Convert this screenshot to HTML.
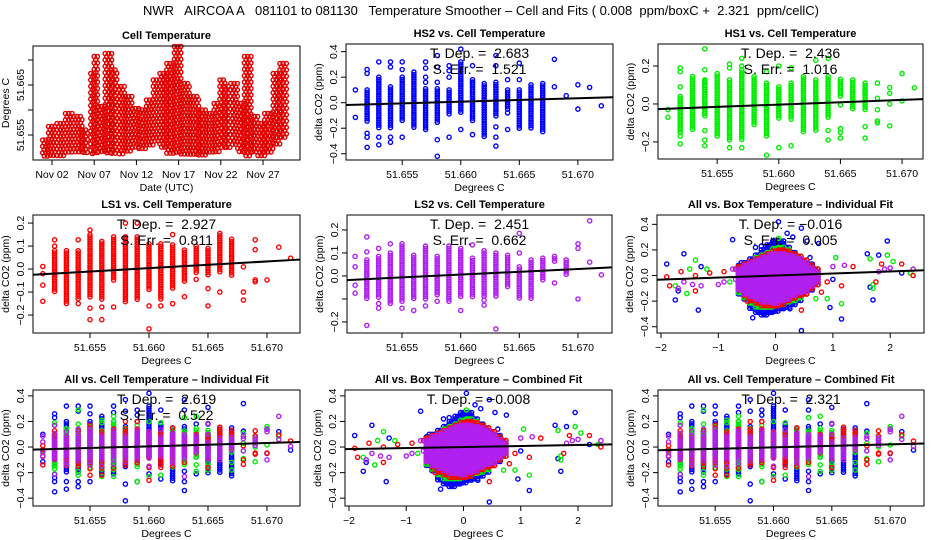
<!DOCTYPE html>
<html><head><meta charset="utf-8">
<style>
html,body{margin:0;padding:0;background:#fff;}
svg{display:block;font-family:"Liberation Sans",Arial,sans-serif;}
</style></head>
<body>
<svg id="chart" width="936" height="540" viewBox="0 0 936 540" xmlns="http://www.w3.org/2000/svg">
<rect x="0" y="0" width="936" height="540" fill="#fff"/>
<text x="481" y="15" text-anchor="middle" font-size="13" style="white-space:pre">NWR   AIRCOA A   081101 to 081130   Temperature Smoother – Cell and Fits ( 0.008  ppm/boxC +  2.321  ppm/cellC)</text>
</svg>
<script>
// ---------- DATA ----------
// Cell temperature time series: bins (days since Nov 1), min & max temperature (deg C)
const tsDays = [-0.1,0.6,1.6,2.6,3.6,4.6,5.6,6.0,6.5,7.3,8.1,8.8,9.7,10.5,11.3,12.2,13.0,13.8,14.6,15.5,16.3,17.4,18.4,19.3,20.2,20.9,21.5,22.2,23.0,23.8,24.6,25.4,26.2,27.2,28.0];
const tsWidth = [0.7,1.0,1.0,1.0,1.0,0.6,0.4,0.5,0.8,0.8,0.7,0.9,0.8,0.8,0.9,0.8,0.8,0.8,0.9,0.8,1.1,1.0,0.9,0.9,0.7,0.6,0.7,0.8,0.8,0.8,0.8,0.8,1.0,0.8,0.8];
const tsLo = [51.6507,51.6507,51.6507,51.6513,51.6513,51.6513,51.6513,51.6513,51.6513,51.6513,51.6513,51.6507,51.6513,51.6520,51.6520,51.6527,51.6533,51.6520,51.6513,51.6513,51.6507,51.6507,51.6507,51.6513,51.6513,51.6520,51.6520,51.6527,51.6513,51.6507,51.6513,51.6507,51.6513,51.6527,51.6540];
const tsHi = [51.6540,51.6567,51.6573,51.6593,51.6587,51.6560,51.6673,51.6707,51.6607,51.6713,51.6680,51.6647,51.6627,51.6603,51.6600,51.6620,51.6660,51.6673,51.6693,51.6727,51.6653,51.6627,51.6600,51.6593,51.6613,51.6660,51.6647,51.6653,51.6613,51.6707,51.6587,51.6573,51.6593,51.6673,51.6693];
const tsXTicks = [1,6,11,16,21,26];
const tsXLabels = ["Nov 02","Nov 07","Nov 12","Nov 17","Nov 22","Nov 27"];

// Cell-temperature bins shared by the scatter panels
const cellBins = [51.651,51.652,51.653,51.654,51.655,51.656,51.657,51.658,51.659,51.660,51.661,51.662,51.663,51.664,51.665,51.666,51.667,51.668,51.669,51.670,51.671,51.672];
const cellTicks = [51.655,51.660,51.665,51.670];
const cellTickLabels = ["51.655","51.660","51.665","51.670"];

const hs2Hi = [null,0.10,0.20,0.125,0.2,0.24,0.11,0.11,0.10,0.32,0.18,0.15,0.16,0.10,0.10,0.14,0.15,null,null,null,null,null];
const hs2Lo = [null,-0.16,-0.21,-0.21,-0.15,-0.21,-0.21,-0.16,-0.1,-0.08,-0.14,-0.27,-0.11,-0.06,-0.21,-0.21,-0.24,null,null,null,null,null];
const hs2Out = [[0.10,-0.115],[0.26,0.23,-0.24,-0.27,-0.35],[0.32,-0.27,-0.33],[0.32,0.28,-0.27,-0.31],[0.32,0.26,-0.27],[],[0.32,0.27,0.2,0.16],[0.37,0.28,0.16,-0.29,-0.42],[0.29,0.25,0.2,-0.27],[0.42,-0.21],[0.29,0.16,-0.25],[],[0.37,0.29,-0.19,-0.27,-0.34],[0.18,-0.08,-0.21],[0.31,0.18],[],[],[0.34,0.125],[0.055],[0.14,-0.05],[0.12],[-0.024]];

const hs1Hi = [null,0.04,0.145,0.127,0.16,0.127,0.18,0.145,0.11,0.09,0.11,0.145,0.127,0.145,0.13,0.127,0.11,null,null,null,null,null];
const hs1Lo = [null,-0.155,-0.14,-0.07,-0.17,-0.19,-0.19,-0.12,-0.17,-0.08,-0.08,-0.155,-0.14,-0.08,0.04,-0.03,-0.04,null,null,null,null,null];
const hs1Out = [[-0.03,-0.07],[0.19,0.17,0.09,-0.17,-0.21],[],[0.29,0.18,0.12,-0.14,-0.19,-0.22],[],[0.21,0.19,-0.23],[0.24,0.2,-0.23],[],[0.17,-0.27],[0.2,-0.23],[0.19,-0.22],[],[0.23],[0.24,-0.14,-0.19],[-0.005,-0.13,-0.15,-0.18],[],[0.065,-0.12,-0.18],[0.11,0.03,-0.03,-0.09,-0.1],[0.087,0.056,0,-0.115],[0.16,0.016],[0.085],[]];

const ls1Hi = [null,0.08,0.08,0.08,0.14,0.12,0.14,0.14,0.14,0.11,0.11,0.105,0.083,0.1,0.09,0.155,0.13,null,null,null,null,null];
const ls1Lo = [null,-0.1,-0.15,-0.13,-0.13,-0.13,-0.05,-0.15,-0.135,-0.09,-0.135,-0.09,-0.055,-0.02,-0.03,-0.02,-0.03,null,null,null,null,null];
const ls1Out = [[0.011,-0.02,-0.07,-0.14],[0.127,0.1],[],[0.127,-0.15],[0.17,0.15,-0.17,-0.22],[-0.165,-0.22],[-0.165],[0.2],[0.2],[-0.16,-0.26],[-0.16],[0.15,-0.15],[-0.12],[-0.045],[-0.085,-0.16],[-0.1],[],[0.01,-0.1,-0.135],[0.127,0.084,-0.047,-0.055],[-0.047],[0.095],[0.047]];

const ls2Hi = [null,0.07,0.085,0.1,0.14,0.09,0.13,0.085,0.13,0.12,0.077,0.11,0.1,0.09,0.04,0.07,0.077,0.085,0.07,null,null,null];
const ls2Lo = [null,-0.1,-0.1,-0.12,-0.1,-0.1,-0.1,-0.09,-0.11,-0.09,-0.09,-0.09,-0.09,-0.055,-0.1,-0.1,-0.02,0.055,0.0,null,null,null];
const ls2Out = [[0.085,0.04,-0.04,-0.075],[0.17,0.105,-0.215],[0.12,-0.12,-0.14],[0.14],[-0.11,-0.14],[-0.15],[-0.13],[-0.11],[],[-0.15],[0.135],[-0.105,-0.127],[-0.23],[],[0.185,0.1],[],[],[-0.03],[],[0.14,0.12,-0.1],[0.24,0.06],[0.005]];

// Box-temperature cloud bins
const boxBins = [-0.6,-0.5,-0.4,-0.3,-0.2,-0.1,0.0,0.1,0.2,0.3,0.4,0.5,0.6,0.7];
const boxTicks = [-2,-1,0,1,2];
const boxTickLabels = ["−2","−1","0","1","2"];
const boxBlueHi = [0.08,0.1,0.13,0.16,0.2,0.24,0.27,0.27,0.22,0.18,0.15,0.12,0.09,0.05];
const boxBlueLo = [-0.16,-0.2,-0.26,-0.3,-0.31,-0.3,-0.28,-0.27,-0.26,-0.24,-0.2,-0.16,-0.12,-0.08];
const boxGreenHi = [0.07,0.09,0.11,0.14,0.16,0.18,0.21,0.22,0.2,0.17,0.15,0.12,0.08,0.05];
const boxGreenLo = [-0.15,-0.18,-0.22,-0.25,-0.26,-0.26,-0.25,-0.24,-0.22,-0.2,-0.18,-0.15,-0.12,-0.08];
const boxRedHi = [0.07,0.09,0.11,0.13,0.15,0.17,0.19,0.2,0.19,0.17,0.15,0.12,0.08,0.05];
const boxRedLo = [-0.13,-0.16,-0.2,-0.22,-0.24,-0.24,-0.24,-0.23,-0.21,-0.19,-0.17,-0.15,-0.12,-0.08];
const boxPurpleHi = [0.05,0.08,0.1,0.12,0.14,0.16,0.17,0.17,0.16,0.15,0.13,0.1,0.06,0.03];
const boxPurpleLo = [-0.12,-0.15,-0.18,-0.2,-0.22,-0.22,-0.22,-0.21,-0.19,-0.17,-0.15,-0.13,-0.1,-0.06];
const boxBlueOutX = [-1.9,-1.6,-1.75,-1.35,-1.3,-0.75,-1.7,-0.55,-0.4,-0.2,0.05,0.45,0.55,0.75,0.95,1.15,1.6,1.7,1.95,1.8,1.65,0.45,0.6,1.0,2.2,-0.6,-0.35,-0.25,0.2,0.25,-0.3,0.3];
const boxBlueOutY = [0.09,0.17,-0.19,-0.27,0.07,0.28,-0.12,-0.18,-0.33,-0.3,0.42,0.37,0.27,0.25,-0.25,-0.34,0.17,-0.19,0.27,0.16,-0.09,-0.43,0.14,-0.03,0.02,0.1,0.22,0.23,0.33,-0.26,-0.28,0.3];
const boxGreenOutX = [-1.75,-1.55,-1.5,-1.4,-1.2,-0.8,0.05,0.4,0.9,1.05,1.15,1.7,1.7,1.65,1.95,2.05,2.35,-0.6,0.25,0.7];
const boxGreenOutY = [-0.08,-0.14,0.05,0.12,0.05,-0.05,0.29,0.1,-0.18,0.14,-0.22,-0.07,-0.1,0.13,0.16,0.11,0.02,-0.04,-0.2,-0.18];
const boxRedOutX = [-1.9,-1.85,-1.65,-1.4,-1.4,-1.15,-0.9,-0.7,-0.5,0.0,0.45,0.9,1.15,1.35,1.85,1.75,2.2,2.4,0.8,-0.55];
const boxRedOutY = [-0.01,-0.08,0.03,-0.12,0.0,0.02,0.03,0.05,-0.2,-0.22,-0.27,-0.05,-0.08,0.07,0.09,-0.05,0.09,0.0,-0.13,-0.1];
const boxPurpleOutX = [-1.7,-1.6,-1.45,-1.0,-0.9,-0.75,-0.7,1.0,1.2,1.9,2.0,2.4,1.8,-1.3];
const boxPurpleOutY = [-0.1,-0.05,-0.07,-0.07,-0.05,0.05,-0.03,0.07,0.08,0.05,0.06,0.05,0.03,-0.08];

// Fit parameters: slope (ppm/degC) and x where fit crosses zero
const fitSlopes = [2.683,2.436,2.927,2.451,0.016,2.619,0.008,2.321];
const fitZeros  = [51.6570,51.6613,51.6587,51.6576,0,51.6579,0,51.6610];
const depLabels = ["T. Dep. =  2.683","T. Dep. =  2.436","T. Dep. =  2.927","T. Dep. =  2.451","T. Dep. = −0.016","T. Dep. =  2.619","T. Dep. = −0.008","T. Dep. =  2.321"];
const errLabels = ["S. Err. =  1.521","S. Err. =  1.016","S. Err. =  0.811","S. Err. =  0.662","S. Err. =  0.005","S. Err. =  0.522",null,null];

// ---------- DRAWING ----------
const NS="http://www.w3.org/2000/svg";
const svg=document.getElementById('chart');
function mk(tag,attrs,parent){const e=document.createElementNS(NS,tag);for(const k in attrs)e.setAttribute(k,attrs[k]);(parent||svg).appendChild(e);return e;}
const BLUE="#0000ff",GREEN="#00ee00",RED="#ff0000",PURPLE="#b020f0";

function makePanel(p){
  const g=mk('g',{});
  
  
  p.g=g;
  p.sx=v=>p.x+(v-p.xl[0])/(p.xl[1]-p.xl[0])*p.w;
  p.sy=v=>p.y+p.h-(v-p.yl[0])/(p.yl[1]-p.yl[0])*p.h;
  p.pts=mk('g',{fill:'none','stroke-width':1.4},g);
  
  
  return p;
}
function finishPanel(p,xticks,xlabels,yticks,ylabels,title,xtitle,ytitle){
  const g=p.g;
  const box=mk('rect',{x:p.x,y:p.y,width:p.w,height:p.h,fill:'none',stroke:'#000','stroke-width':1},g);
  
  
  const ax=mk('g',{stroke:'#000','stroke-width':1},g);
  
  
  const b=p.y+p.h;
  xticks.forEach((t,i)=>{
    const x=p.sx(t);
    mk('line',{x1:x,x2:x,y1:b,y2:b+5},ax);
    const tx=mk('text',{x:x,y:b+18,'text-anchor':'middle','font-size':10.5,stroke:'none'},ax);
    tx.textContent=xlabels[i];
    
    
  });
  const ay=mk('g',{stroke:'#000','stroke-width':1},g);
  
  
  yticks.forEach((t,i)=>{
    const y=p.sy(t);
    mk('line',{x1:p.x-5,x2:p.x,y1:y,y2:y},ay);
    if(ylabels[i]!==null){
      const tx=mk('text',{transform:`translate(${p.x-9},${y}) rotate(-90)`,'text-anchor':'middle','font-size':10.5,stroke:'none'},ay);
      tx.textContent=ylabels[i];
      
      
    }
  });
  const tt=mk('text',{x:p.x+p.w/2,y:p.y-7,'text-anchor':'middle','font-size':11,'font-weight':'bold'},g);
  tt.textContent=title;
  
  
  const xt=mk('text',{x:p.x+p.w/2,y:b+31,'text-anchor':'middle','font-size':10.5},g);
  xt.textContent=xtitle;
  
  
  const yt=mk('text',{transform:`translate(${p.x-24},${p.y+p.h/2}) rotate(-90)`,'text-anchor':'middle','font-size':10.5},g);
  yt.textContent=ytitle;
  
  
}
function dot(p,x,y,color){mk('circle',{cx:x.toFixed(1),cy:y.toFixed(1),r:2.1,stroke:color},p.pts);}
function drawCellSeries(p,hi,lo,out,color){
  cellBins.forEach((bx,i)=>{
    const x=p.sx(bx);
    if(hi[i]!==null){
      const y1=p.sy(hi[i]),y2=p.sy(lo[i]);
      for(let y=y1;y<=y2+0.1;y+=2.4)dot(p,x,y,color);
    }
    out[i].forEach(v=>dot(p,x,p.sy(v),color));
  });
}
function drawBoxSeries(p,hi,lo,ox,oy,color){
  boxBins.forEach((bx,i)=>{
    const xa=p.sx(bx-0.05),xb=p.sx(bx+0.05);
    for(let x=xa;x<xb;x+=2.6){
      const y1=p.sy(hi[i]),y2=p.sy(lo[i]);
      for(let y=y1;y<=y2+0.1;y+=2.6)dot(p,x,y,color);
    }
  });
  ox.forEach((v,i)=>dot(p,p.sx(v),p.sy(oy[i]),color));
}
function drawFit(p,k){
  const f=v=>fitSlopes[k]*(v-fitZeros[k]);
  const l=mk('line',{x1:p.x,x2:p.x+p.w,y1:p.sy(f(p.xl[0])),y2:p.sy(f(p.xl[1])),stroke:'#000','stroke-width':2},p.g);
  
  
  const a=mk('text',{x:p.x+p.w/2,y:p.y+14,'text-anchor':'middle','font-size':14,style:'white-space:pre'},p.g);
  a.textContent=depLabels[k];
  
  
  if(errLabels[k]){
    const e=mk('text',{x:p.x+p.w/2,y:p.y+30,'text-anchor':'middle','font-size':14,style:'white-space:pre'},p.g);
    e.textContent=errLabels[k];
    
    
  }
}

const yT4=[-0.4,-0.2,0,0.2,0.4], yL4b=["−0.4","−0.2","0.0","0.2","0.4"];

// Panel 1: time series
{
  const p=makePanel({name:'cell-temperature-panel',x:33,y:46,w:267,h:114,xl:[-1.25,30.38],yl:[51.650,51.6728]});
  tsDays.forEach((d,i)=>{
    const xa=p.sx(d),xb=p.sx(d+tsWidth[i]);
    const y1=p.sy(tsHi[i]),y2=p.sy(tsLo[i]);
    let row=0;
    for(let y=y1;y<=y2+0.1;y+=3.2,row++){
      for(let x=xa+(row%2)*1.6;x<=xb;x+=3.2)dot(p,x,y,"#e00000");
    }
  });
  finishPanel(p,tsXTicks,tsXLabels,[51.655,51.660,51.665,51.670],["51.655",null,"51.665",null],"Cell Temperature","Date (UTC)","Degrees C");
}
// Panel 2: HS2
{
  const p=makePanel({name:'hs2-vs-cell-panel',x:346,y:44,w:267,h:116,xl:[51.6502,51.6730],yl:[-0.449,0.46]});
  drawCellSeries(p,hs2Hi,hs2Lo,hs2Out,BLUE);
  drawFit(p,0);
  finishPanel(p,cellTicks,cellTickLabels,yT4,yL4b,"HS2 vs. Cell Temperature","Degrees C","delta CO2 (ppm)");
}
// Panel 3: HS1
{
  const p=makePanel({name:'hs1-vs-cell-panel',x:658,y:44,w:265,h:115,xl:[51.6502,51.6717],yl:[-0.29,0.316]});
  drawCellSeries(p,hs1Hi,hs1Lo,hs1Out,GREEN);
  drawFit(p,1);
  finishPanel(p,cellTicks,cellTickLabels,[-0.2,0,0.2],["−0.2","0.0","0.2"],"HS1 vs. Cell Temperature","Degrees C","delta CO2 (ppm)");
}
// Panel 4: LS1
{
  const p=makePanel({name:'ls1-vs-cell-panel',x:33,y:215,w:267,h:118,xl:[51.65017,51.6728],yl:[-0.278,0.235]});
  drawCellSeries(p,ls1Hi,ls1Lo,ls1Out,RED);
  drawFit(p,2);
  finishPanel(p,cellTicks,cellTickLabels,[-0.2,-0.1,0,0.1,0.2],["−0.2","−0.1","0.0","0.1","0.2"],"LS1 vs. Cell Temperature","Degrees C","delta CO2 (ppm)");
}
// Panel 5: LS2
{
  const p=makePanel({name:'ls2-vs-cell-panel',x:347,y:215,w:265,h:118,xl:[51.65031,51.6729],yl:[-0.248,0.265]});
  drawCellSeries(p,ls2Hi,ls2Lo,ls2Out,PURPLE);
  drawFit(p,3);
  finishPanel(p,cellTicks,cellTickLabels,[-0.2,-0.1,0,0.1,0.2],["−0.2",null,"0.0","0.1","0.2"],"LS2 vs. Cell Temperature","Degrees C","delta CO2 (ppm)");
}
// Panel 6: all vs box individual
{
  const p=makePanel({name:'all-vs-box-individual-panel',x:657,y:215,w:267,h:118,xl:[-2.07,2.59],yl:[-0.449,0.473]});
  drawBoxSeries(p,boxBlueHi,boxBlueLo,boxBlueOutX,boxBlueOutY,BLUE);
  drawBoxSeries(p,boxGreenHi,boxGreenLo,boxGreenOutX,boxGreenOutY,GREEN);
  drawBoxSeries(p,boxRedHi,boxRedLo,boxRedOutX,boxRedOutY,RED);
  drawBoxSeries(p,boxPurpleHi,boxPurpleLo,boxPurpleOutX,boxPurpleOutY,PURPLE);
  drawFit(p,4);
  finishPanel(p,boxTicks,boxTickLabels,yT4,yL4b,"All vs. Box Temperature – Individual Fit","Degrees C","delta CO2 (ppm)");
}
// Panel 7: all vs cell individual
{
  const p=makePanel({name:'all-vs-cell-individual-panel',x:33,y:390,w:267,h:116,xl:[51.65017,51.6728],yl:[-0.461,0.446]});
  drawCellSeries(p,hs2Hi,hs2Lo,hs2Out,BLUE);
  drawCellSeries(p,hs1Hi,hs1Lo,hs1Out,GREEN);
  drawCellSeries(p,ls1Hi,ls1Lo,ls1Out,RED);
  drawCellSeries(p,ls2Hi,ls2Lo,ls2Out,PURPLE);
  drawFit(p,5);
  finishPanel(p,cellTicks,cellTickLabels,yT4,yL4b,"All vs. Cell Temperature – Individual Fit","Degrees C","delta CO2 (ppm)");
}
// Panel 8: all vs box combined
{
  const p=makePanel({name:'all-vs-box-combined-panel',x:345,y:390,w:267,h:116,xl:[-2.07,2.594],yl:[-0.461,0.446]});
  drawBoxSeries(p,boxBlueHi,boxBlueLo,boxBlueOutX,boxBlueOutY,BLUE);
  drawBoxSeries(p,boxGreenHi,boxGreenLo,boxGreenOutX,boxGreenOutY,GREEN);
  drawBoxSeries(p,boxRedHi,boxRedLo,boxRedOutX,boxRedOutY,RED);
  drawBoxSeries(p,boxPurpleHi,boxPurpleLo,boxPurpleOutX,boxPurpleOutY,PURPLE);
  drawFit(p,6);
  finishPanel(p,boxTicks,boxTickLabels,yT4,yL4b,"All vs. Box Temperature – Combined Fit","Degrees C","delta CO2 (ppm)");
}
// Panel 9: all vs cell combined
{
  const p=makePanel({name:'all-vs-cell-combined-panel',x:658,y:390,w:266,h:116,xl:[51.6501,51.6729],yl:[-0.461,0.446]});
  drawCellSeries(p,hs2Hi,hs2Lo,hs2Out,BLUE);
  drawCellSeries(p,hs1Hi,hs1Lo,hs1Out,GREEN);
  drawCellSeries(p,ls1Hi,ls1Lo,ls1Out,RED);
  drawCellSeries(p,ls2Hi,ls2Lo,ls2Out,PURPLE);
  drawFit(p,7);
  finishPanel(p,cellTicks,cellTickLabels,yT4,yL4b,"All vs. Cell Temperature – Combined Fit","Degrees C","delta CO2 (ppm)");
}
</script>
</body></html>
